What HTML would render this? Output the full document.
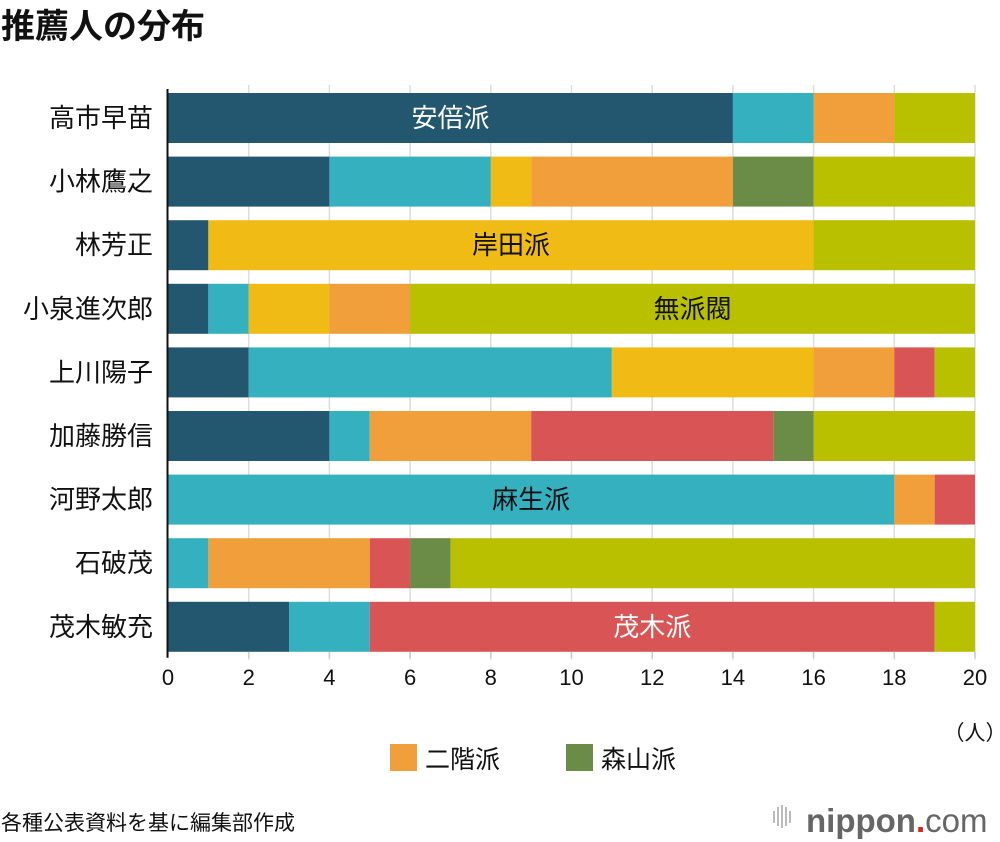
<!DOCTYPE html>
<html><head><meta charset="utf-8">
<style>
body{margin:0;background:#fff;font-family:"Liberation Sans","Noto Sans CJK JP",sans-serif;}
#wrap{position:relative;width:1000px;height:842px;overflow:hidden;}
</style></head>
<body>
<div id="wrap">
<svg id="chart" width="1000" height="842" xmlns="http://www.w3.org/2000/svg" style="font-family:'Liberation Sans','Noto Sans CJK JP',sans-serif">
<text x="1" y="38" font-size="34" font-weight="bold" fill="#111">推薦人の分布</text>
<g id="grid"></g>
<g id="bars"></g>
<g id="ylabels"></g>
<g id="xaxis"></g>
<text x="975" y="740" font-size="21" text-anchor="middle" fill="#111">（人）</text>
<rect x="390" y="744" width="27" height="27" fill="#f09f3a"/>
<text x="425" y="768" font-size="25" fill="#111">二階派</text>
<rect x="566" y="744" width="27" height="27" fill="#6a8c46"/>
<text x="601" y="768" font-size="25" fill="#111">森山派</text>
<text x="1" y="830" font-size="21" fill="#111">各種公表資料を基に編集部作成</text>
<g>
<rect x="773" y="811" width="2" height="12" fill="#bbb"/><rect x="777" y="807" width="2" height="19" fill="#bbb"/><rect x="781" y="805" width="2" height="23" fill="#bbb"/><rect x="785" y="807" width="2" height="19" fill="#bbb"/><rect x="789" y="811" width="2" height="12" fill="#bbb"/>
<text x="806" y="832" font-size="33" font-weight="bold" fill="#666">nippon<tspan fill="#e02020">.</tspan><tspan font-weight="normal">com</tspan></text>
</g>
</svg>
</div>
<script>
const candidates=["高市早苗","小林鷹之","林芳正","小泉進次郎","上川陽子","加藤勝信","河野太郎","石破茂","茂木敏充"];
const factions=["安倍派","麻生派","岸田派","二階派","茂木派","森山派","無派閥"];
const factionColors=["#23566f","#35b0bf","#f0bb14","#f09f3a","#d95555","#6a8c46","#b8c000"];
const abe=[14,4,1,1,2,4,0,0,3];
const aso=[2,4,0,1,9,1,18,1,2];
const kishida=[0,1,15,2,5,0,0,0,0];
const nikai=[2,5,0,2,2,4,1,4,0];
const motegi=[0,0,0,0,1,6,1,1,14];
const moriyama=[0,2,0,0,0,1,0,1,0];
const none=[2,4,4,14,1,4,0,13,1];
const xTicks=[0,2,4,6,8,10,12,14,16,18,20];
const labelRow=[0,2,3,6,8];
const labelFaction=[0,2,6,1,4];
const labelColor=["#fff","#111","#111","#111","#fff"];

const series=[abe,aso,kishida,nikai,motegi,moriyama,none];
const X0=168,X1=975,XMAX=20,Y0=93,PITCH=63.6,BH=50;
const x=v=>X0+(X1-X0)*v/XMAX;
const y=i=>Y0+i*PITCH;
const NS="http://www.w3.org/2000/svg";
function mk(tag,attrs,parent,text){const e=document.createElementNS(NS,tag);for(const k in attrs)e.setAttribute(k,attrs[k]);if(text!==undefined)e.textContent=text;document.getElementById(parent).appendChild(e);return e;}
xTicks.forEach(t=>{
  if(t>0){const g=mk('line',{x1:x(t),x2:x(t),y1:Y0-8,y2:y(8)+BH+8,stroke:'#ddd','stroke-width':1.5},'grid');
  
  }
  const tk=mk('line',{x1:x(t),x2:x(t),y1:y(8)+BH,y2:y(8)+BH+6,stroke:'#ccc','stroke-width':1.5},'xaxis');
  
  
  const tl=mk('text',{x:x(t),y:y(8)+BH+33,'font-size':22,'text-anchor':'middle',fill:'#111'},'xaxis',String(t));
  
  
});
candidates.forEach((c,i)=>{
  let acc=0;
  series.forEach((s,k)=>{
    if(s[i]>0){
      const r=mk('rect',{x:x(acc),y:y(i),width:x(acc+s[i])-x(acc),height:BH,fill:factionColors[k]},'bars');
      
      
      acc+=s[i];
    }
  });
  const l=mk('text',{x:153,y:y(i)+BH/2+9,'font-size':26,'text-anchor':'end',fill:'#111'},'ylabels',c);
  
  
});
labelRow.forEach((r,j)=>{
  const f=labelFaction[j];
  let start=0;for(let k=0;k<f;k++)start+=series[k][r];
  const cx=(x(start)+x(start+series[f][r]))/2;
  const t=mk('text',{x:cx,y:y(r)+BH/2+9,'font-size':26,'text-anchor':'middle',fill:labelColor[j]},'bars',factions[f]);
  
  
});
const ax=mk('line',{x1:X0-0.5,x2:X0-0.5,y1:Y0-4,y2:y(8)+BH+6,stroke:'#111','stroke-width':2},'xaxis');


</script>
</body></html>
